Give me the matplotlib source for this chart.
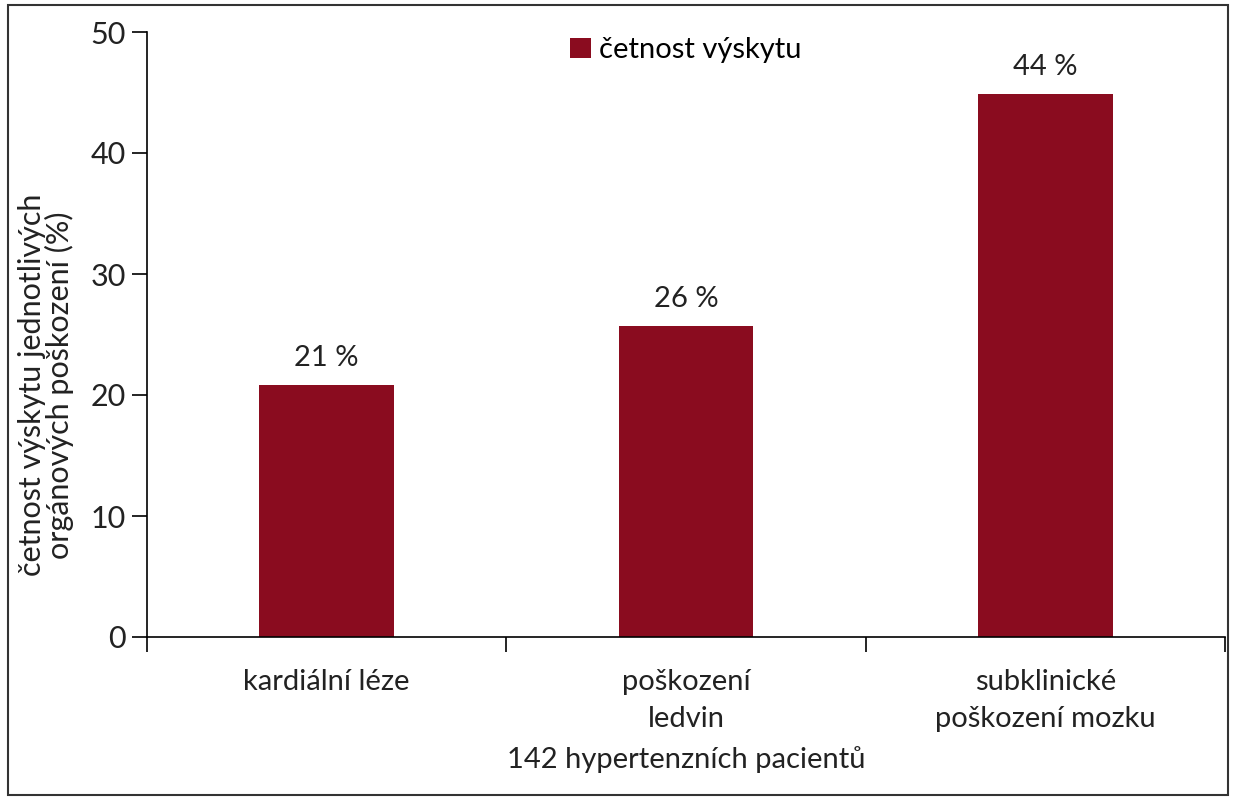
import numpy as np
import matplotlib.pyplot as plt
from matplotlib.patches import Rectangle

plt.rcParams['font.family'] = ['Lato', 'DejaVu Sans']

kategorie = ['kardiální léze', 'poškození\nledvin', 'subklinické\npoškození mozku']
hodnoty = [20.8, 25.7, 44.9]
popisky = ['21 %', '26 %', '44 %']
barva = '#8A0C1F'

fig = plt.figure(figsize=(12.37, 8), dpi=100)
ax = fig.add_axes([147 / 1237, 1 - 637 / 800, (1225 - 147) / 1237, (637 - 32) / 800])

x = np.arange(len(kategorie))
bars = ax.bar(x, hodnoty, width=0.375, color=barva, label='četnost výskytu')
ax.bar_label(bars, labels=popisky, padding=10, fontsize=21, color='#222222')

ax.set_xlim(-0.5, 2.5)
ax.set_ylim(0, 50)
ax.set_yticks([0, 10, 20, 30, 40, 50])
ax.tick_params(axis='y', length=11, width=1.2, labelsize=22, pad=4, labelcolor='#222222')

# hranice kategorii jako carky, popisky bez carek
ax.set_xticks([-0.5, 0.5, 1.5, 2.5])
ax.set_xticklabels([])
ax.tick_params(axis='x', length=11, width=1.2)
ax.set_xticks(x, minor=True)
ax.set_xticklabels(kategorie, minor=True, fontsize=21, color='#222222', linespacing=1.55)
ax.tick_params(axis='x', which='minor', length=0, pad=23)

ax.set_xlabel('142 hypertenzních pacientů', fontsize=21, color='#222222', labelpad=10)

ax.spines['top'].set_visible(False)
ax.spines['right'].set_visible(False)
ax.spines['left'].set_linewidth(1.2)
ax.spines['bottom'].set_linewidth(1.2)

fig.text(46 / 1237, 1 - 385 / 800, 'četnost výskytu jednotlivých\norgánových poškození (%)',
         rotation=90, ha='center', va='center', fontsize=22, color='#222222',
         multialignment='center', linespacing=0.95)

ax.legend(loc='upper center', bbox_to_anchor=(0.50, 1.035), frameon=False, fontsize=21,
          handlelength=0.7, handleheight=0.7, handletextpad=0.3)

fig.add_artist(Rectangle((8 / 1237, 5 / 800), 1220 / 1237, 790 / 800, transform=fig.transFigure,
                         fill=False, edgecolor='#333333', linewidth=1.5))

fig.savefig('out.png', dpi=100)
